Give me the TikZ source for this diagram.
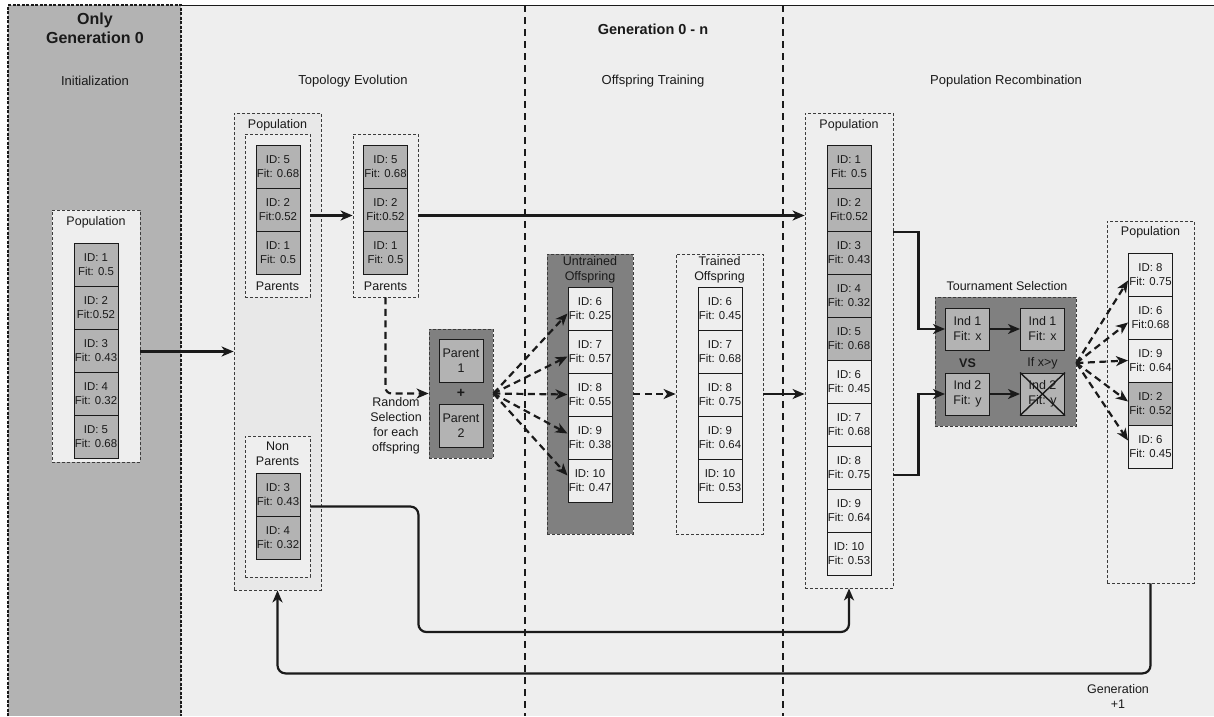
\documentclass[tikz,border=0pt]{standalone}
\usepackage{fontspec}
\setmainfont{Liberation Sans}
\usetikzlibrary{arrows.meta,calc}
\definecolor{bg}{HTML}{EEEEEE}
\definecolor{panel}{HTML}{B3B3B3}
\definecolor{darkbox}{HTML}{808080}
\definecolor{celldark}{HTML}{B3B3B3}
\definecolor{celllight}{HTML}{EEEEEE}
\definecolor{ink}{HTML}{1A1A1A}
\definecolor{topofill}{HTML}{E8E8E8}
\begin{document}
\begin{tikzpicture}[x=1pt,y=-1pt,
 lbl/.style={font=\fontsize{12.5}{15}\selectfont, text=ink, align=center, inner sep=0pt},
 head/.style={font=\fontsize{13}{15}\selectfont, text=ink, inner sep=0pt},
 cellbox/.style={draw=ink, line width=1pt, minimum width=44pt, minimum height=43pt, inner sep=0pt, align=center, font=\fontsize{11.4}{14.5}\selectfont, text=ink},
 dk/.style={cellbox, fill=celldark},
 lt/.style={cellbox, fill=celllight},
 grp/.style={draw=ink!85, dash pattern=on 3pt off 2pt, line width=0.8pt, inner sep=0pt},
 conn/.style={draw=ink, line width=2.2pt, -{Stealth[length=12pt,width=10pt,inset=3.5pt]}},
 dconn/.style={conn, dash pattern=on 7pt off 4.5pt},
 sqbox/.style={draw=ink, line width=1pt, fill=celldark, minimum width=44pt, minimum height=43pt, inner sep=0pt, align=center, font=\fontsize{12.5}{15}\selectfont, text=ink},
]
\useasboundingbox (0,0) rectangle (1214,716);
% background
\fill[white] (0,0) rectangle (1214,716);
\fill[bg] (8,5) rectangle (1214,716);
\draw[ink, line width=1pt] (181,5) -- (1214,5);
\fill[panel] (8,5) rectangle (181,716);
\draw[ink, line width=1.2pt, dash pattern=on 3pt off 1.5pt] (8,716) -- (8,5) -- (181,5) -- (181,716);
% separators
\draw[ink, line width=1.5pt, dash pattern=on 7pt off 5pt] (525,5) -- (525,716);
\draw[ink, line width=1.5pt, dash pattern=on 7pt off 5pt] (783,5) -- (783,716);
% headings
\node[font=\bfseries\fontsize{16}{19}\selectfont, text=ink, align=center, inner sep=0pt] (h0) at (95,28) {Only\\Generation 0};
\node[head] (hinit) at (95,81) {Initialization};
\node[font=\bfseries\fontsize{14.5}{16}\selectfont, text=ink, inner sep=0pt] (hgen) at (653,29) {Generation 0 - n};
\node[head] (htopo) at (353,81) {Topology Evolution};
\node[head] (htrain) at (653,81) {Offspring Training};
\node[head] (hrec) at (1006,81) {Population Recombination};
% initialization population
\node[grp, fill=bg, minimum width=88pt, minimum height=252pt] (initpop) at (96,336) {};
\node[lbl] (initlbl) at (96,222) {Population};
\node[dk] (i1) at (96,264.5) {ID: 1\\Fit: 0.5};
\node[dk] (i2) at (96,307.5) {ID: 2\\Fit:0.52};
\node[dk] (i3) at (96,350.5) {ID: 3\\Fit: 0.43};
\node[dk] (i4) at (96,393.5) {ID: 4\\Fit: 0.32};
\node[dk] (i5) at (96,436.5) {ID: 5\\Fit: 0.68};
% topology evolution
\node[grp, fill=topofill, minimum width=87pt, minimum height=477pt] (topo) at (277.5,351.5) {};
\node[lbl] (topolbl) at (277.5,125) {Population};
\node[grp, fill=bg, minimum width=65pt, minimum height=163pt] (par1) at (277.5,215.5) {};
\node[dk] (p1a) at (278,166.5) {ID: 5\\Fit: 0.68};
\node[dk] (p1b) at (278,209.5) {ID: 2\\Fit:0.52};
\node[dk] (p1c) at (278,252.5) {ID: 1\\Fit: 0.5};
\node[lbl] (par1lbl) at (277.5,286) {Parents};
\node[grp, fill=bg, minimum width=65pt, minimum height=141pt] (nonpar) at (277.5,506.5) {};
\node[lbl] (nplbl) at (277.5,453.5) {Non\\Parents};
\node[dk] (np1) at (278,494.5) {ID: 3\\Fit: 0.43};
\node[dk] (np2) at (278,537.5) {ID: 4\\Fit: 0.32};
\node[grp, fill=bg, minimum width=65pt, minimum height=163pt] (par2) at (385.5,215.5) {};
\node[dk] (p2a) at (385.5,166.5) {ID: 5\\Fit: 0.68};
\node[dk] (p2b) at (385.5,209.5) {ID: 2\\Fit:0.52};
\node[dk] (p2c) at (385.5,252.5) {ID: 1\\Fit: 0.5};
\node[lbl] (par2lbl) at (385.5,286) {Parents};
% parent box
\node[grp, fill=darkbox, minimum width=64pt, minimum height=129pt] (pbox) at (461,393.5) {};
\node[sqbox] (pa1) at (461,361) {Parent\\1};
\node[sqbox] (pa2) at (461,426) {Parent\\2};
\node[font=\bfseries\fontsize{14}{14}\selectfont, text=ink, inner sep=0pt] (plus) at (461,393) {+};
\node[lbl] (rand) at (396,426) {Random\\Selection\\for each\\offspring};
% untrained offspring
\node[grp, fill=darkbox, minimum width=86pt, minimum height=280pt] (untr) at (590,394) {};
\node[lbl] (untrlbl) at (590,269.5) {Untrained\\Offspring};
\node[lt] (u1) at (590,308.5) {ID: 6\\Fit: 0.25};
\node[lt] (u2) at (590,351.5) {ID: 7\\Fit: 0.57};
\node[lt] (u3) at (590,394.5) {ID: 8\\Fit: 0.55};
\node[lt] (u4) at (590,437.5) {ID: 9\\Fit: 0.38};
\node[lt] (u5) at (590,480.5) {ID: 10\\Fit: 0.47};
% trained offspring
\node[grp, fill=bg, minimum width=87pt, minimum height=280pt] (tr) at (719.5,394) {};
\node[lbl] (trlbl) at (719.5,269.5) {Trained\\Offspring};
\node[lt] (t1) at (720,308.5) {ID: 6\\Fit: 0.45};
\node[lt] (t2) at (720,351.5) {ID: 7\\Fit: 0.68};
\node[lt] (t3) at (720,394.5) {ID: 8\\Fit: 0.75};
\node[lt] (t4) at (720,437.5) {ID: 9\\Fit: 0.64};
\node[lt] (t5) at (720,480.5) {ID: 10\\Fit: 0.53};
% recombination population
\node[grp, fill=bg, minimum width=88pt, minimum height=475pt] (rec) at (849,350.5) {};
\node[lbl] (reclbl) at (849,125) {Population};
\node[dk] (r1) at (849,166.5) {ID: 1\\Fit: 0.5};
\node[dk] (r2) at (849,209.5) {ID: 2\\Fit:0.52};
\node[dk] (r3) at (849,252.5) {ID: 3\\Fit: 0.43};
\node[dk] (r4) at (849,295.5) {ID: 4\\Fit: 0.32};
\node[dk] (r5) at (849,338.5) {ID: 5\\Fit: 0.68};
\node[lt] (r6) at (849,381.5) {ID: 6\\Fit: 0.45};
\node[lt] (r7) at (849,424.5) {ID: 7\\Fit: 0.68};
\node[lt] (r8) at (849,467.5) {ID: 8\\Fit: 0.75};
\node[lt] (r9) at (849,510.5) {ID: 9\\Fit: 0.64};
\node[lt] (r10) at (849,553.5) {ID: 10\\Fit: 0.53};
% tournament
\node[lbl] (tourlbl) at (1007,286) {Tournament Selection};
\node[grp, fill=darkbox, minimum width=141pt, minimum height=129pt] (tour) at (1005.5,361.5) {};
\node[sqbox, minimum height=42pt] (ind1) at (967.5,329) {Ind 1\\Fit: x};
\node[sqbox, minimum height=42pt] (ind2) at (967.5,394) {Ind 2\\Fit: y};
\node[sqbox, minimum height=42pt] (win) at (1042.5,329) {Ind 1\\Fit: x};
\node[sqbox, minimum height=42pt] (lose) at (1042.5,394) {Ind 2\\Fit: y};
\node[font=\bfseries\fontsize{12.5}{15}\selectfont, text=ink, inner sep=0pt] (vs) at (967.5,363) {VS};
\node[lbl] (ifxy) at (1042.5,363) {If x>y};
\draw[ink, line width=1.4pt] (lose.north west) -- (lose.south east) (lose.north east) -- (lose.south west);
% final population
\node[grp, fill=bg, minimum width=87pt, minimum height=362pt] (fp) at (1150.5,402) {};
\node[lbl] (fplbl) at (1150.5,232) {Population};
\node[lt] (f1) at (1150.5,274.5) {ID: 8\\Fit: 0.75};
\node[lt] (f2) at (1150.5,317.5) {ID: 6\\Fit:0.68};
\node[lt] (f3) at (1150.5,360.5) {ID: 9\\Fit: 0.64};
\node[dk] (f4) at (1150.5,403.5) {ID: 2\\Fit: 0.52};
\node[lt] (f5) at (1150.5,446.5) {ID: 6\\Fit: 0.45};
\node[lbl] (genp1) at (1118,696) {Generation\\+1};
% connectors
\draw[conn] (initpop.east |- topo.west) -- (topo.west);
\draw[conn] (par1.east) -- (par2.west);
\draw[conn] (par2.east) -- (par2.east -| rec.west);
\draw[dconn, rounded corners=6pt] (par2.south) |- (pbox.west);
\draw[dconn] (pbox.east) -- ($(u1.west)+(0,5)$);
\draw[dconn] (pbox.east) -- ($(u2.west)+(0,5)$);
\draw[dconn] (pbox.east) -- (u3.west);
\draw[dconn] (pbox.east) -- ($(u4.west)+(0,-4)$);
\draw[dconn] (pbox.east) -- ($(u5.west)+(0,-5)$);
\draw[dconn] (untr.east) -- (tr.west);
\draw[conn] (tr.east) -- (tr.east -| rec.west);
\draw[conn] ($(rec.east)+(0,-118.5)$) -- ++(25,0) |- (ind1.west);
\draw[conn] ($(rec.east)+(0,124.5)$) -- ++(25,0) |- (ind2.west);
\draw[conn] (ind1) -- (win);
\draw[conn] (ind2) -- (lose);
\draw[dconn] ($(tour.east)+(0,1.5)$) -- ($(f1.west)+(0,6)$);
\draw[dconn] ($(tour.east)+(0,1.5)$) -- ($(f2.west)+(0,5)$);
\draw[dconn] ($(tour.east)+(0,1.5)$) -- (f3.west);
\draw[dconn] ($(tour.east)+(0,1.5)$) -- ($(f4.west)+(0,-2)$);
\draw[dconn] ($(tour.east)+(0,1.5)$) -- ($(f5.west)+(0,-6)$);
\draw[conn, rounded corners=8pt] (nonpar.east) -- ++(108,0) -- ++(0,125.5) -| (rec.south);
\draw[conn, rounded corners=8pt] (fp.south) -- ++(0,90) -| (topo.south);
\end{tikzpicture}
\end{document}
